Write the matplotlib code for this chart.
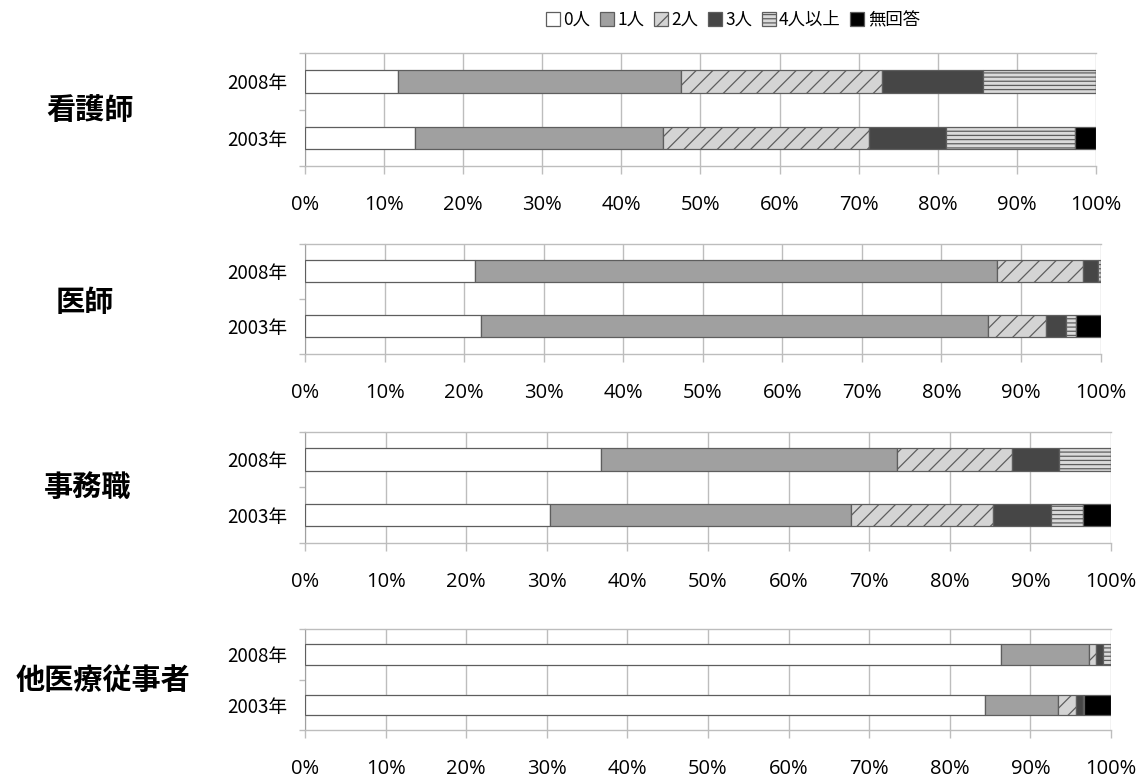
import matplotlib
matplotlib.use('Agg')
import matplotlib.pyplot as plt
from matplotlib.ticker import FixedLocator, PercentFormatter

plt.rcParams['font.family'] = ['Noto Sans CJK JP', 'DejaVu Sans']
plt.rcParams['hatch.linewidth'] = 0.9

# ---- data (percent) ----
categories = ['看護師', '医師', '事務職', '他医療従事者']
years = ['2003年', '2008年']
series = ['0人', '1人', '2人', '3人', '4人以上', '無回答']

nurse_2003 = [13.9, 31.3, 26.1, 9.7, 16.3, 2.7]
nurse_2008 = [11.7, 35.8, 25.4, 12.8, 14.3, 0.0]
doctor_2003 = [22.1, 63.7, 7.3, 2.6, 1.2, 3.1]
doctor_2008 = [21.4, 65.6, 10.8, 1.9, 0.3, 0.0]
clerk_2003 = [30.4, 37.3, 17.6, 7.2, 4.0, 3.5]
clerk_2008 = [36.7, 36.7, 14.3, 5.9, 6.4, 0.0]
other_2003 = [84.4, 9.0, 2.2, 0.9, 0.1, 3.4]
other_2008 = [86.4, 10.9, 0.9, 0.8, 1.0, 0.0]

panel_data = [
    (nurse_2003, nurse_2008),
    (doctor_2003, doctor_2008),
    (clerk_2003, clerk_2008),
    (other_2003, other_2008),
]
x_ticks = [0, 10, 20, 30, 40, 50, 60, 70, 80, 90, 100]

# ---- styling ----
styles = [
    dict(facecolor='white'),
    dict(facecolor='#a0a0a0'),
    dict(facecolor='#d4d4d4', hatch='//'),
    dict(facecolor='#464646'),
    dict(facecolor='#dadada', hatch='----'),
    dict(facecolor='#000000'),
]
edge = '#5e5e5e'
grid_c = '#bdbdbd'

W, H = 1147, 778
fig = plt.figure(figsize=(W / 100, H / 100), dpi=100)

# pixel boxes: x0, x1, ytop, ybottom
boxes = [(305, 1096, 53.3, 166), (305, 1100.5, 244, 354),
         (305, 1111, 431.7, 542.7), (305, 1111, 629.3, 730)]
label_y = [110, 302, 487, 680]
label_x = [90, 85, 88, 103]

handles = None
for i, ((x0, x1, yt, yb), (d03, d08)) in enumerate(zip(boxes, panel_data)):
    ax = fig.add_axes([x0 / W, 1 - yb / H, (x1 - x0) / W, (yb - yt) / H])
    rows = [d03, d08]
    hs = []
    for s in range(len(series)):
        lefts = [sum(r[:s]) for r in rows]
        vals = [r[s] for r in rows]
        b = ax.barh([0, 1], vals, left=lefts, height=0.4, edgecolor=edge,
                    linewidth=0.9, label=series[s], zorder=3, **styles[s])
        hs.append(b)
    if handles is None:
        handles = hs
    ax.set_xlim(0, 100)
    ax.set_ylim(-0.5, 1.5)
    ax.xaxis.set_major_locator(FixedLocator(x_ticks))
    ax.xaxis.set_major_formatter(PercentFormatter(100, decimals=0))
    ax.grid(axis='x', color=grid_c, linewidth=1.0, zorder=0)
    ax.tick_params(axis='x', length=5.5, color=grid_c, width=1.0, pad=15.5,
                   labelsize=14.5)
    for t in ax.get_xticklabels():
        t.set_fontfamily(['Open Sans', 'DejaVu Sans'])
    ax.set_yticks([0, 1])
    ax.set_yticklabels(years, fontsize=13.5)
    ax.tick_params(axis='y', length=0, pad=13)
    ax.yaxis.set_minor_locator(FixedLocator([-0.5, 0.5, 1.5]))
    ax.tick_params(axis='y', which='minor', length=4.5, color=grid_c, width=1.0)
    for side in ['top', 'bottom']:
        ax.spines[side].set_color(grid_c)
        ax.spines[side].set_linewidth(1.0)
    ax.spines['right'].set_visible(False)
    ax.spines['left'].set_color('#a0a0a0')
    fig.text(label_x[i] / W, 1 - label_y[i] / H, categories[i], fontsize=21,
             fontweight='bold', ha='center', va='center')

fig.legend(handles, series, loc='upper center', bbox_to_anchor=(733 / W, 1 - 4 / H),
           ncol=6, frameon=False, handlelength=0.8, handleheight=0.8,
           handletextpad=0.2, columnspacing=0.55, fontsize=12.5, borderaxespad=0)

fig.savefig('out.png', dpi=100)
